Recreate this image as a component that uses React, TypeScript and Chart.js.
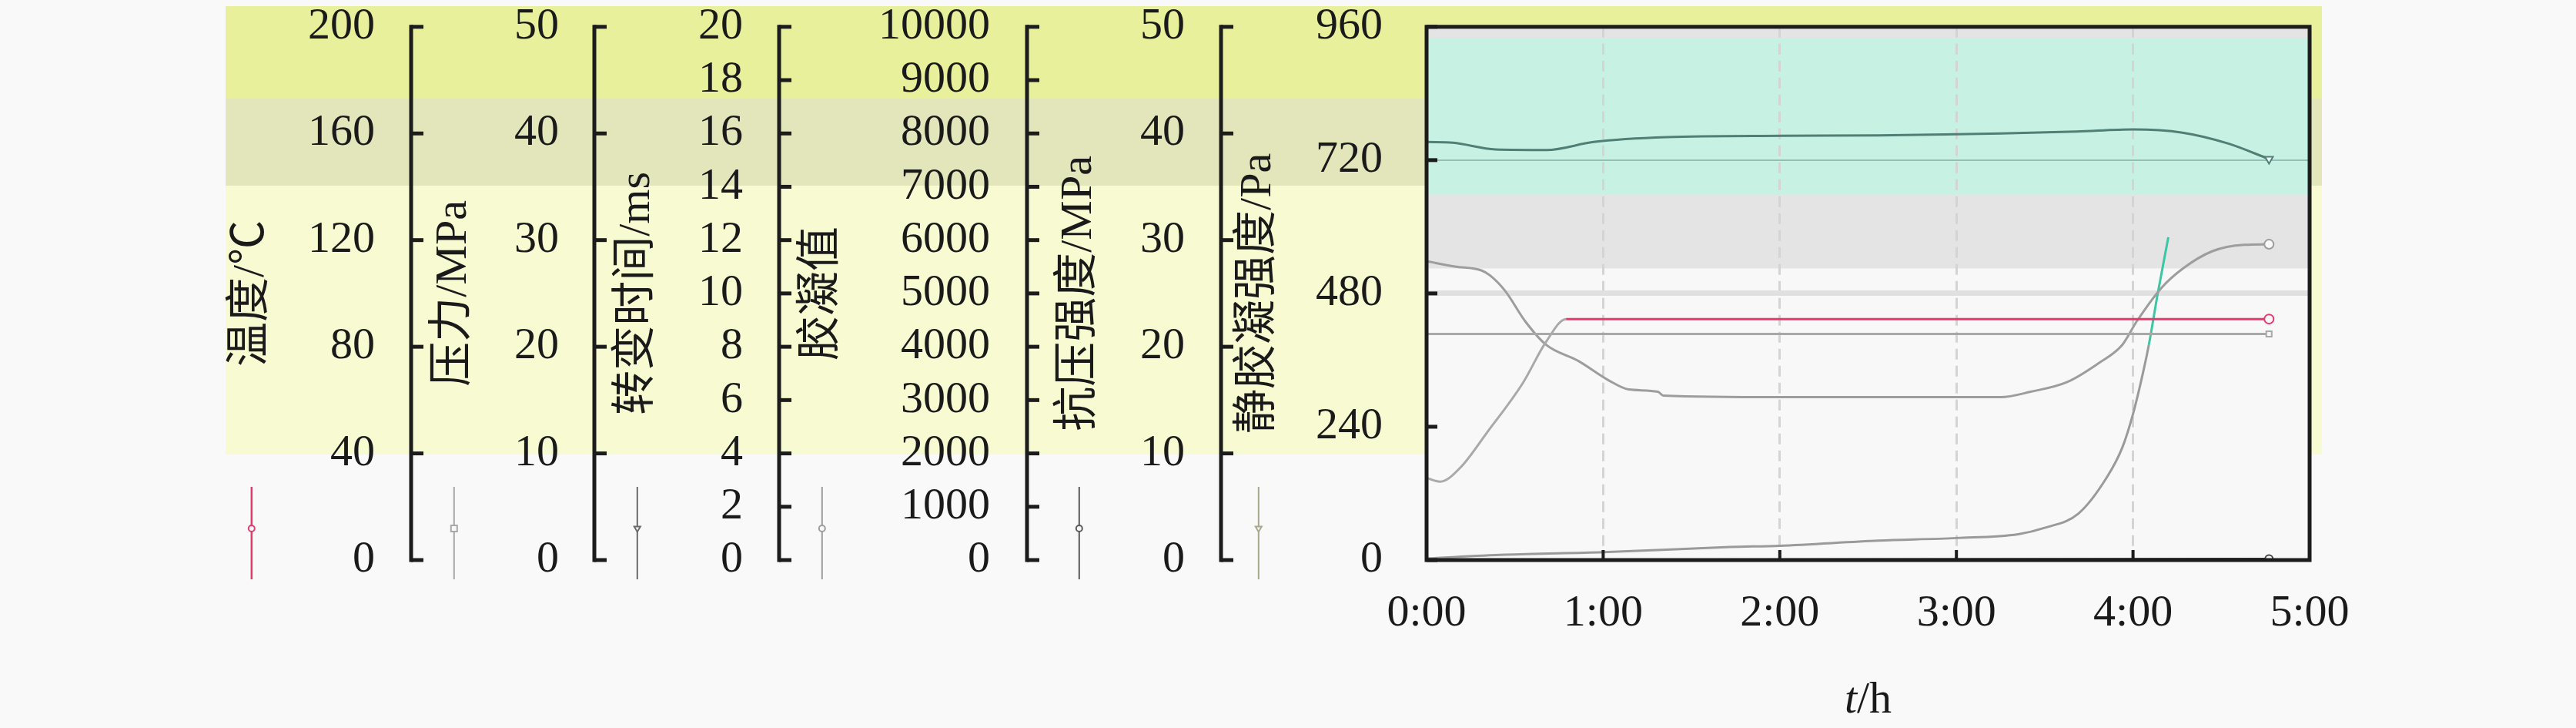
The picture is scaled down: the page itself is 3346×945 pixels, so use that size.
import React, { useEffect, useRef } from 'react';
import { Chart, registerables } from 'chart.js';

Chart.register(...registerables);

// ---------------- data ----------------
const xTickHours = [0, 1, 2, 3, 4, 5];
const xTickLabels = ['0:00', '1:00', '2:00', '3:00', '4:00', '5:00'];

const axisIds = ['yTemp', 'yPres', 'yTrans', 'yGel', 'yComp', 'ySgs'];
const axisTitles = ['温度/℃', '压力/MPa', '转变时间/ms', '胶凝值', '抗压强度/MPa', '静胶凝强度/Pa'];
const axisMax = [200, 50, 20, 10000, 50, 960];
const axisStep = [40, 10, 2, 1000, 10, 240];

// temperature, °C
const tempTime = [0, 0.077, 0.19, 0.345, 0.545, 0.676, 0.79, 1.5, 3.0, 4.77];
const tempValues = [30.8, 29.4, 34.6, 48.1, 66.4, 81.8, 90.4, 90.4, 90.4, 90.4];

// pressure, MPa
const pressureTime = [0, 4.77];
const pressureValues = [21.2, 21.2];

// transit time, ms
const transitTime = [0, 0.15, 0.39, 0.68, 0.945, 1.36, 2.01, 2.56, 2.99, 3.25, 3.68, 4.0, 4.28, 4.54, 4.77];
const transitValues = [15.68, 15.65, 15.4, 15.38, 15.68, 15.86, 15.91, 15.93, 15.97, 16.0, 16.07, 16.15, 16.03, 15.62, 15.04];

// gel value
const gelTime = [0, 0.16, 0.31, 0.36, 0.445, 0.56, 0.676, 0.86, 1.03, 1.145, 1.31, 1.34, 2.0, 3.0, 3.25, 3.42, 3.63, 3.81, 3.94, 4.02, 4.16, 4.28, 4.45, 4.63, 4.77];
const gelValues = [5605, 5504, 5432, 5336, 5047, 4471, 4039, 3732, 3372, 3199, 3156, 3084, 3055, 3055, 3055, 3156, 3343, 3703, 4039, 4471, 5101, 5461, 5793, 5912, 5922];

// compressive strength, MPa
const compTime = [0, 4.77];
const compValues = [0, 0.1];

// static gel strength, Pa
const sgsTime = [0, 0.445, 1.0, 1.72, 2.0, 2.56, 3.0, 3.35, 3.5, 3.69, 3.85, 3.94, 4.0, 4.06, 4.09, 4.14, 4.2];
const sgsValues = [3, 9.7, 14.3, 23.5, 25.8, 35, 39.7, 46.6, 58, 83.4, 148, 203, 263, 342, 388, 480, 581];

// ---------------- styles ----------------
const FAMILY = "'Liberation Serif', 'Times New Roman', 'Noto Sans CJK SC', serif";
const FS = 58;
const TEXT = '#1a1a1a';
const AXIS_BOX_WIDTH = [244, 238, 240, 322, 252, 267];
const AXIS_TITLE_PAD = [2, 21, 21, 21, 33, 14];
const AXIS_LABEL_GAP = [47, 46, 47, 48, 47, 57];
const LINE_COLORS = ['#e6396e', '#a8a8a8', '#4f7f75', '#9d9d9d', '#444444', '#9a9a9a'];
const LEGEND_COLORS = ['#e6396e', '#a8a8a8', '#6a6a6a', '#9d9d9d', '#5a5a5a', '#a8a88a'];
const MARKERS = ['circle', 'rect', 'triDown', 'circle', 'circle', 'triDown'];
const PAGE_BG = '#f9f9f9';
const BACKDROP = { left: 293, right: 3016, bands: [
  { top: 8, bottom: 128, color: '#e8f09c' },
  { top: 128, bottom: 241, color: '#e3e6bb' },
  { top: 241, bottom: 590, color: '#f8fbd2' },
] };
const PLOT_BG = '#f8f8f8';
const PLOT_GRAY = { from: 960, to: 525, color: '#e4e4e4' };
const PLOT_TEAL = { from: 940, to: 658, color: '#c7f2e3' };

Chart.defaults.font.family = FAMILY;
Chart.defaults.font.size = FS;
Chart.defaults.color = TEXT;

const mk = (t: number[], v: number[]) => t.map((x, i) => ({ x, y: v[i] }));
const endRadius = (r: number) => (c: any) => (c.dataIndex === c.dataset.data.length - 1 ? r : 0);

function drawMarker(ctx: CanvasRenderingContext2D, kind: string, x: number, y: number, r: number, color: string) {
  ctx.save();
  ctx.strokeStyle = color;
  ctx.fillStyle = PLOT_BG;
  ctx.lineWidth = 2;
  ctx.beginPath();
  if (kind === 'circle') ctx.arc(x, y, r, 0, Math.PI * 2);
  else if (kind === 'rect') ctx.rect(x - r, y - r, 2 * r, 2 * r);
  else {
    ctx.moveTo(x - r, y - r * 0.6);
    ctx.lineTo(x + r, y - r * 0.6);
    ctx.lineTo(x, y + r * 1.1);
    ctx.closePath();
  }
  ctx.fill();
  ctx.stroke();
  ctx.restore();
}

const backgroundPlugin = {
  id: 'bgBands',
  beforeDraw(chart: any) {
    const { ctx, width, height, chartArea: a, scales } = chart;
    ctx.save();
    ctx.fillStyle = PAGE_BG;
    ctx.fillRect(0, 0, width, height);
    for (const b of BACKDROP.bands) {
      ctx.fillStyle = b.color;
      ctx.fillRect(BACKDROP.left, b.top, BACKDROP.right - BACKDROP.left, b.bottom - b.top);
    }
    const s = scales.ySgs;
    ctx.fillStyle = PLOT_BG;
    ctx.fillRect(a.left, a.top, a.width, a.height);
    for (const band of [PLOT_GRAY, PLOT_TEAL]) {
      const y0 = s.getPixelForValue(band.from);
      const y1 = s.getPixelForValue(band.to);
      ctx.fillStyle = band.color;
      ctx.fillRect(a.left, y0, a.width, y1 - y0);
    }
    ctx.restore();
  },
};

const framePlugin = {
  id: 'frame',
  afterDraw(chart: any) {
    const { ctx, chartArea: a, scales } = chart;
    ctx.save();
    ctx.strokeStyle = '#1c1c1c';
    ctx.lineCap = 'butt';
    axisIds.forEach((id, k) => {
      const sc = scales[id];
      ctx.lineWidth = 5;
      if (k < axisIds.length - 1) {
        ctx.beginPath();
        ctx.moveTo(sc.right, sc.top - 2.5);
        ctx.lineTo(sc.right, sc.bottom + 2.5);
        ctx.stroke();
      }
      const len = k < axisIds.length - 1 ? 16 : 14;
      sc.ticks.forEach((_t: any, i: number) => {
        const y = sc.getPixelForTick(i);
        ctx.beginPath();
        ctx.moveTo(sc.right, y);
        ctx.lineTo(sc.right + len, y);
        ctx.stroke();
      });
    });
    const xs = scales.x;
    ctx.lineWidth = 4;
    xs.ticks.forEach((_t: any, i: number) => {
      const x = xs.getPixelForTick(i);
      ctx.beginPath();
      ctx.moveTo(x, a.bottom);
      ctx.lineTo(x, a.bottom - 13);
      ctx.stroke();
    });
    ctx.lineWidth = 5;
    ctx.strokeRect(a.left, a.top, a.width, a.height);

    const half = (FS * 1.2) / 2;
    axisIds.forEach((id, k) => {
      const sc = scales[id];
      const x = sc.left + AXIS_TITLE_PAD[k] + half;
      ctx.strokeStyle = LEGEND_COLORS[k];
      ctx.lineWidth = k === 0 ? 2.5 : 2;
      ctx.beginPath();
      ctx.moveTo(x, a.bottom - 95);
      ctx.lineTo(x, a.bottom + 25);
      ctx.stroke();
      drawMarker(ctx, MARKERS[k], x, a.bottom - 41, 4, LEGEND_COLORS[k]);
    });

    ctx.fillStyle = TEXT;
    ctx.textBaseline = 'alphabetic';
    ctx.textAlign = 'left';
    ctx.font = `italic ${FS}px ${FAMILY}`;
    const wt = ctx.measureText('t').width;
    ctx.font = `${FS}px ${FAMILY}`;
    const wh = ctx.measureText('/h').width;
    const cx = (a.left + a.right) / 2;
    const x0 = cx - (wt + wh) / 2;
    const ty = a.bottom + 198;
    ctx.font = `italic ${FS}px ${FAMILY}`;
    ctx.fillText('t', x0, ty);
    ctx.font = `${FS}px ${FAMILY}`;
    ctx.fillText('/h', x0 + wt, ty);
    ctx.restore();
  },
};

export default function App() {
  const ref = useRef<HTMLCanvasElement | null>(null);

  useEffect(() => {
    document.body.style.margin = '0';
    document.body.style.background = PAGE_BG;
    if (!ref.current) return;

    const scales: any = {
      x: {
        type: 'linear',
        min: 0,
        max: 5,
        afterBuildTicks: (s: any) => {
          s.ticks = xTickHours.map((v) => ({ value: v }));
        },
        ticks: {
          callback: (_v: any, i: number) => xTickLabels[i],
          padding: 35,
          font: { size: FS, family: FAMILY },
          color: TEXT,
          maxRotation: 0,
          autoSkip: false,
        },
        grid: {
          drawTicks: false,
          color: (c: any) => (c.tick && c.tick.value > 0 && c.tick.value < 5 ? '#d4d4d4' : 'rgba(0,0,0,0)'),
          lineWidth: 3,
        },
        border: { display: false, dash: [14, 8] },
        afterFit: (s: any) => {
          s.height = 218;
        },
      },
    };

    axisIds.forEach((id, k) => {
      const last = k === axisIds.length - 1;
      scales[id] = {
        type: 'linear',
        position: 'left',
        weight: axisIds.length - k,
        min: 0,
        max: axisMax[k],
        ticks: {
          stepSize: axisStep[k],
          autoSkip: false,
          padding: 0,
          font: { size: FS, family: FAMILY },
          color: TEXT,
          callback: (v: any) => String(v),
        },
        grid: last
          ? {
              drawOnChartArea: true,
              drawTicks: true,
              tickLength: AXIS_LABEL_GAP[k],
              tickColor: 'rgba(0,0,0,0)',
              color: (c: any) => {
                const v = c.tick && c.tick.value;
                if (v === 720) return 'rgba(110,150,140,0.55)';
                if (v === 480) return '#e0e0e0';
                return 'rgba(0,0,0,0)';
              },
              lineWidth: (c: any) => (c.tick && c.tick.value === 480 ? 7 : 2),
            }
          : { display: false, drawTicks: true, tickLength: AXIS_LABEL_GAP[k] },
        border: { display: false },
        title: {
          display: true,
          text: axisTitles[k],
          font: { size: FS, family: FAMILY },
          color: TEXT,
          padding: { top: AXIS_TITLE_PAD[k], bottom: 0 },
        },
        afterFit: (s: any) => {
          s.width = AXIS_BOX_WIDTH[k];
        },
      };
    });

    const common = {
      borderWidth: 3,
      cubicInterpolationMode: 'monotone' as const,
      pointBackgroundColor: PLOT_BG,
      pointBorderWidth: 2,
      pointHoverRadius: 0,
      fill: false,
    };

    const chart = new Chart(ref.current, {
      type: 'line',
      data: {
        datasets: [
          {
            ...common,
            label: '温度',
            data: mk(tempTime, tempValues),
            yAxisID: 'yTemp',
            borderColor: LINE_COLORS[0],
            pointBorderColor: LINE_COLORS[0],
            segment: { borderColor: (c: any) => (c.p1.parsed.x <= 0.8 ? '#a9a9a9' : undefined) },
            pointStyle: 'circle',
            pointRadius: endRadius(6),
          },
          {
            ...common,
            label: '压力',
            data: mk(pressureTime, pressureValues),
            yAxisID: 'yPres',
            borderColor: LINE_COLORS[1],
            pointBorderColor: LINE_COLORS[1],
            pointStyle: 'rect',
            pointRadius: endRadius(5),
          },
          {
            ...common,
            label: '转变时间',
            data: mk(transitTime, transitValues),
            yAxisID: 'yTrans',
            borderColor: LINE_COLORS[2],
            pointBorderColor: LINE_COLORS[2],
            pointStyle: 'triangle',
            rotation: 180,
            pointRadius: endRadius(6),
          },
          {
            ...common,
            label: '胶凝值',
            data: mk(gelTime, gelValues),
            yAxisID: 'yGel',
            borderColor: LINE_COLORS[3],
            pointBorderColor: LINE_COLORS[3],
            pointStyle: 'circle',
            pointRadius: endRadius(6),
          },
          {
            ...common,
            label: '抗压强度',
            data: mk(compTime, compValues),
            yAxisID: 'yComp',
            borderColor: LINE_COLORS[4],
            pointBorderColor: LINE_COLORS[4],
            pointStyle: 'circle',
            pointRadius: endRadius(5),
          },
          {
            ...common,
            label: '静胶凝强度',
            data: mk(sgsTime, sgsValues),
            yAxisID: 'ySgs',
            borderColor: LINE_COLORS[5],
            segment: { borderColor: (c: any) => (c.p0.parsed.x >= 4.08 ? '#3cc7a4' : undefined) },
            pointRadius: 0,
          },
        ],
      },
      options: {
        responsive: false,
        devicePixelRatio: 1,
        animation: false,
        layout: { padding: { left: 290, right: 346, top: 33, bottom: 0 } },
        plugins: { legend: { display: false }, tooltip: { enabled: false } },
        events: [],
        scales,
      },
      plugins: [backgroundPlugin, framePlugin],
    } as any);

    return () => chart.destroy();
  }, []);

  return (
    <div style={{ width: 3346, height: 945, background: PAGE_BG }}>
      <canvas ref={ref} width={3346} height={945} style={{ display: 'block', width: 3346, height: 945 }} />
    </div>
  );
}
